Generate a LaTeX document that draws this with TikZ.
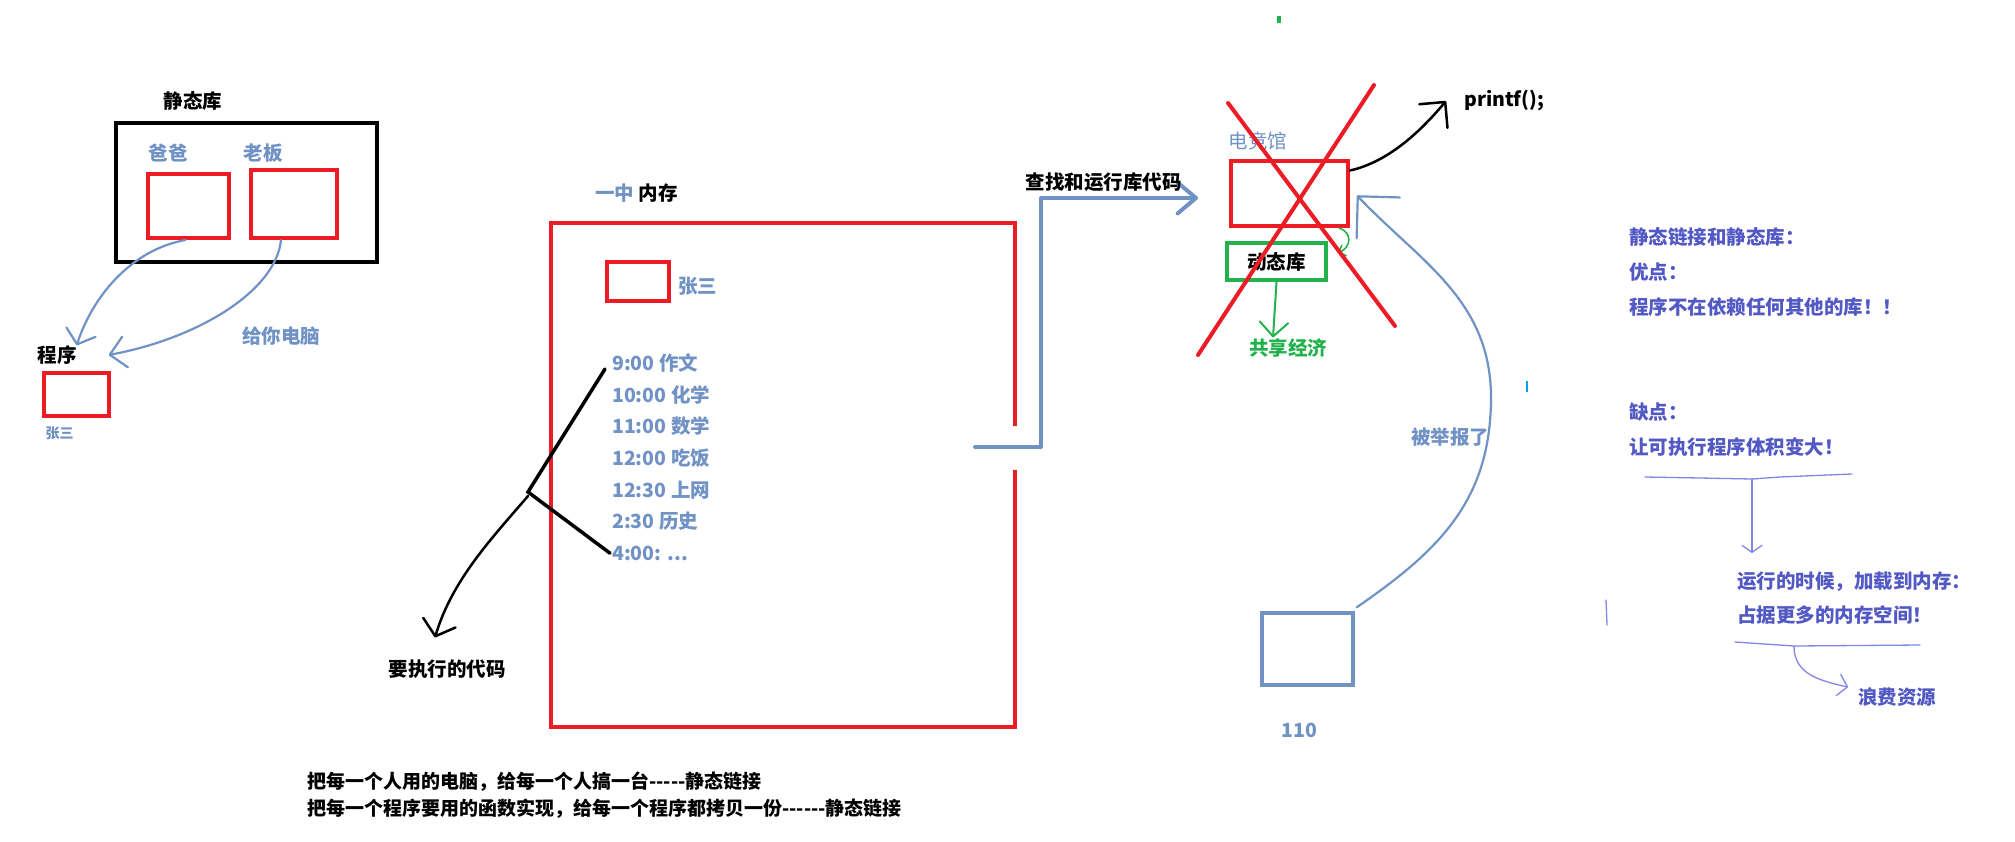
\documentclass[tikz,border=0pt]{standalone}
\usepackage{fontspec}
\setmainfont{Noto Sans CJK SC}[Ligatures=TeXOff]
\definecolor{SketchRed}{RGB}{237,28,36}
\definecolor{SketchBlue}{RGB}{112,146,196}
\definecolor{SketchGreen}{RGB}{34,177,76}
\definecolor{NoteViolet}{RGB}{82,88,196}
\definecolor{NoteLine}{RGB}{128,134,228}
\definecolor{MarkBlue}{RGB}{0,162,232}
\usetikzlibrary{positioning,arrows.meta}

\begin{document}
\begin{tikzpicture}[x=1pt, y=-1pt,
    every node/.style={font=\bfseries\fontsize{19.5}{23}\selectfont, inner sep=0pt},
    blk/.style      ={text=black},
    bl/.style       ={text=SketchBlue},
    gr/.style       ={text=SketchGreen},
    note/.style     ={text=NoteViolet, align=left, font=\bfseries\fontsize{19.5}{35}\selectfont},
    redbox/.style   ={draw=SketchRed, line width=4pt},
    redline/.style  ={SketchRed, line width=4pt},
    tip/.style      ={-{Straight Barb[angle=#1, round]}},
    bluearr/.style  ={SketchBlue, line width=2.2pt, line cap=round, line join=round},
    blueline/.style ={SketchBlue, line width=4pt, line cap=round, line join=round},
    blackarr/.style ={black, line width=2.5pt, line cap=round, line join=round},
    greenarr/.style ={SketchGreen, line width=2pt, line cap=round, line join=round},
    noteline/.style ={NoteLine, line width=1.3pt, line cap=round, line join=round},
  ]
  \useasboundingbox (0,0) rectangle (2015,841);

  % ─ Static library (left) ─
  \node[blk] (libl) at (193,101) {静态库};
  \node[draw=black, line width=4pt, minimum width=261, minimum height=139] (lib) at (246.5,192.5) {};
  \node[redbox, minimum width=81, minimum height=64] (baba) at (188.5,206) {};
  \node[redbox, minimum width=86, minimum height=68] (boss) at (294,204) {};
  \node[bl] (babal) at (168,153) {爸爸};
  \node[bl] (bossl) at (263,153) {老板};

  % ─ Program ─
  \node[blk] (progl) at (57,355) {程序};
  \node[redbox, minimum width=65, minimum height=43] (prog) at (76.5,394.5) {};
  \node[bl, font=\bfseries\fontsize{14}{17}\selectfont, below=9pt of prog, xshift=-17pt] (progn) {张三};
  \node[bl] (gift) at (281,336) {给你电脑};

  \draw[bluearr, tip={100:20pt}] ([xshift=-3pt]baba.south) .. controls (130,250) and (92,298) .. (progl.north east);
  \draw[bluearr, tip={90:22pt}] ([xshift=-13pt]boss.south) .. controls (276,290) and (200,338) .. ([xshift=32pt]progl.east);

  % ─ Memory ─
  \node[anchor=west] (meml) at (595,193) {\textcolor{SketchBlue}{一中} 内存};
  \node[minimum width=464, minimum height=504] (mem) at (783,475) {};
  \draw[redline] ([yshift=49pt]mem.east) -- (mem.north east) -- (mem.north west)
                 -- (mem.south west) -- (mem.south east) -- ([yshift=5pt]mem.east);
  \node[redbox, minimum width=62, minimum height=39] (zs) at (638,281.5) {};
  \node[bl, right=7pt of zs, yshift=-5pt] (zsl) {张三};

  \foreach \t [count=\i] in {9:00 作文, 10:00 化学, 11:00 数学, 12:00 吃饭, 12:30 上网, 2:30 历史, 4:00: .{}.{}.}
    \node[bl, anchor=west] (t\i) at (612,{331.3+31.7*\i}) {\t};

  \coordinate (fork) at (528,492);
  \draw[line width=3.5pt, line cap=round] ([xshift=-7pt,yshift=-6pt]t1.west) -- (fork) -- ([xshift=-2pt]t7.west);
  \node[blk] (code) at (447,669) {要执行的代码};
  \draw[blackarr, tip={100:22pt}] ([yshift=-4pt]fork) .. controls (492,538) and (452,580) .. ([xshift=-12pt,yshift=22pt]code.north);

  % ─ Internet cafe / dynamic library ─
  \node[bl, font=\fontsize{19.5}{23}\selectfont] (arenal) at (1258,141) {电竞馆};
  \node[redbox, minimum width=117, minimum height=65] (arena) at (1289.5,193.5) {};
  \node[draw=SketchGreen, line width=4pt, minimum width=99, minimum height=37] (dyn) at (1276.5,261.5) {动态库};
  \node[gr] (share) at (1288,348) {共享经济};
  \node[blk, anchor=west] (printf) at (1464,101) {printf();};

  \coordinate (memout) at (975,447);
  \draw[blueline, tip={80:24pt}] (memout) -- ++(66,0)
        |- node[blk, pos=0.7, above=4pt] (lookup) {查找和运行库代码} ([xshift=-31pt,yshift=-4.5pt]arena.west);

  \draw[blackarr, tip={90:26pt}] ([yshift=23pt]arena.east) .. controls (1388,162) and (1420,132) .. ([xshift=-18pt]printf.west);
  \draw[greenarr, tip={90:20pt}] (dyn.south) -- ([xshift=-3.5pt,yshift=1pt]dyn.south |- share.north);
  \coordinate (hook) at (1338,253);
  \draw[greenarr, line width=1.6pt, tip={90:8pt}] ([xshift=-11pt]arena.south east) .. controls (1352,232) and (1352,247) .. (hook);

  \draw[redline, line cap=round] (1228,103) -- (1395,326);
  \draw[redline, line cap=round] (1374,85) -- (1198,355);
  \fill[SketchGreen] (1277,16) rectangle (1281,23);

  % ─ Police ─
  \node[draw=SketchBlue, line width=3.5pt, minimum width=91, minimum height=72] (police) at (1307.5,649) {};
  \node[bl, below=36pt of police, xshift=-8pt] (num) {110};
  \node[bl] (report) at (1450,437) {被举报了};
  \draw[bluearr, tip={90:42pt}] ([xshift=2pt,yshift=4pt]police.north east) .. controls (1440,550) and (1490,500) .. (1491,400)
        .. controls (1492,300) and (1420,262) .. ([xshift=7pt,yshift=-2pt]arena.east);
  \draw[MarkBlue, line width=1.5pt] (1527,381) -- (1527,392);

  % ─ Notes (right) ─
  \node[note, anchor=north west] (pros) at (1629,227) {静态链接和静态库：\\优点：\\程序不在依赖任何其他的库！！};
  \node[note, anchor=north west] (cons) at (1629,403) {缺点：\\让可执行程序体积变大！};
  \coordinate (cut1) at (1752,479);
  \draw[noteline] (1645,477) -- (1700,478) -- (cut1) -- (1780,477) -- (1852,474);
  \node[note, anchor=north west, font=\bfseries\fontsize{19.5}{34}\selectfont] (load) at (1737,572)
        {运行的时候，加载到内存：\\占据更多的内存空间！};
  \draw[noteline, tip={110:12pt}] (cut1) -- ([yshift=19pt]load.north -| cut1);
  \coordinate (cut2) at (1794,646);
  \draw[noteline] (1735,642) -- (cut2) -- (1920,645);
  \node[note, anchor=west] (waste) at (1858,697) {浪费资源};
  \draw[noteline, tip={100:14pt}] (cut2) .. controls (1794,672) and (1815,680) .. ([xshift=-10pt,yshift=10pt]waste.west);
  \draw[noteline] (1606,600) -- (1607,625);

  % ─ Summary (bottom) ─
  \node[blk, anchor=north west, align=left, font=\bfseries\fontsize{19}{27}\selectfont] (summary) at (307,772)
        {把每一个人用的电脑，给每一个人搞一台-----静态链接\\把每一个程序要用的函数实现，给每一个程序都拷贝一份------静态链接};
\end{tikzpicture}
\end{document}
